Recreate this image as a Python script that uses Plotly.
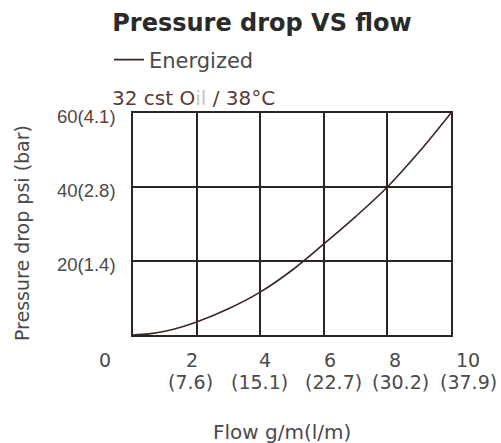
import plotly.graph_objects as go

# Data
flow_gpm = [0, 0.5, 1, 1.5, 2, 3, 4, 5, 6, 7, 8, 9, 10]
pressure_psi = [0, 0.3, 1.0, 2.1, 3.5, 7.1, 11.6, 17.5, 24.6, 32.0, 40.0, 49.5, 60.0]

x_ticks = [0, 2, 4, 6, 8, 10]
x_tick_gpm = ["0", "2", "4", "6", "8", "10"]
x_tick_lpm = ["", "(7.6)", "(15.1)", "(22.7)", "(30.2)", "(37.9)"]
y_ticks = [20, 40, 60]
y_tick_text = ["20(1.4)", "40(2.8)", "60(<span style='color:#6b3a2a'>4.1</span>)"]

# label horizontal offsets (pixels) as they appear in the reference
shift_row1 = [-28, -5, 5, 6, 8, 17]
shift_row2 = [0, -6, -1, 10, 13, 17]

FONT = "DejaVu Sans, sans-serif"
FONT2 = "Liberation Sans, Arial, sans-serif"
GRID = "#2b2523"
TXT = "#4a4a4a"

fig = go.Figure()
fig.add_trace(go.Scatter(
    x=flow_gpm, y=pressure_psi, mode="lines", name="Energized",
    line=dict(color="#3a2622", width=1.6, shape="spline"),
))

for v, t, s in zip(x_ticks, x_tick_gpm, shift_row1):
    fig.add_annotation(x=v, y=0, xref="x", yref="paper", text=t, showarrow=False,
                       xanchor="center", yanchor="middle", yshift=-25, xshift=s,
                       font=dict(family=FONT, size=19, color=TXT))
for v, t, s in zip(x_ticks, x_tick_lpm, shift_row2):
    if t:
        fig.add_annotation(x=v, y=0, xref="x", yref="paper", text=t, showarrow=False,
                           xanchor="center", yanchor="middle", yshift=-47, xshift=s,
                           font=dict(family=FONT, size=19, color=TXT))

fig.add_annotation(x=(282 - 133) / 318, y=0, xref="paper", yref="paper",
                   text="Flow g/m(l/m)", showarrow=False, xanchor="center", yanchor="middle",
                   yshift=-97,
                   font=dict(family=FONT, size=20, color=TXT))

fig.add_annotation(x=(22 - 133) / 318, y=(335 - 233) / 222, xref="paper", yref="paper",
                   text="Pressure drop psi (bar)", showarrow=False, textangle=-90,
                   xanchor="center", yanchor="middle",
                   font=dict(family=FONT, size=19, color=TXT))

fig.add_annotation(x=(110 - 133) / 318, y=1, xref="paper", yref="paper",
                   text="32 cst O<span style='color:#c8c8c8'>il</span> / 38°C", showarrow=False,
                   xanchor="left", yanchor="middle", yshift=15,
                   font=dict(family=FONT, size=20, color="#5a3a32"))

fig.update_layout(
    width=501, height=443,
    margin=dict(l=133, r=50, t=113, b=108),
    paper_bgcolor="white", plot_bgcolor="white",
    title=dict(text="<b>Pressure drop VS flow</b>", x=262 / 501, xanchor="center",
               y=1 - 23 / 443, yanchor="middle", yref="container",
               font=dict(family=FONT, size=24, color="#2a2a2a")),
    showlegend=True,
    legend=dict(x=(109 - 133) / 318, y=(335 - 60) / 222, xanchor="left", yanchor="middle",
                bgcolor="rgba(0,0,0,0)",
                font=dict(family=FONT, size=21, color=TXT)),
    font=dict(family=FONT, color=TXT),
)
fig.update_xaxes(range=[0, 10], tickvals=x_ticks, showticklabels=False, showgrid=True,
                 gridcolor=GRID, gridwidth=1.5, showline=True, linecolor=GRID, linewidth=1.5,
                 mirror=True, zeroline=False, ticks="")
fig.update_yaxes(range=[0, 60], tickvals=y_ticks, ticktext=y_tick_text, showgrid=True,
                 gridcolor=GRID, gridwidth=1.5, showline=True, linecolor=GRID, linewidth=1.5,
                 mirror=True, zeroline=False, ticks="", ticklabelstandoff=12,
                 ticklabelshift=4,
                 tickfont=dict(family=FONT2, size=18.5, color=TXT))

fig.write_html("out.html", config={"displayModeBar": False},
               post_script="document.body.style.margin='0';")
